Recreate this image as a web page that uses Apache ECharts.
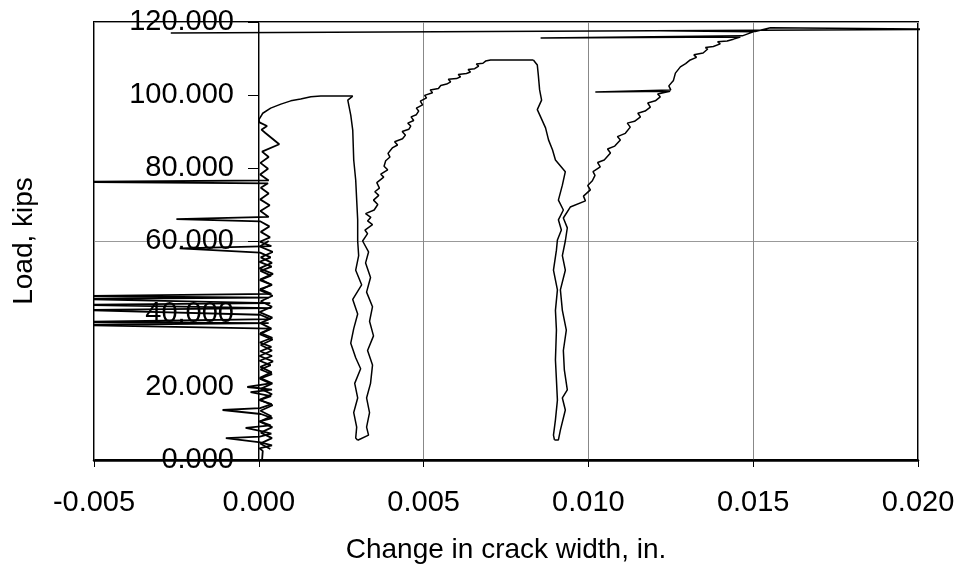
<!DOCTYPE html>
<html>
<head>
<meta charset="utf-8">
<title>Load vs crack width</title>
<script src="https://cdn.jsdelivr.net/npm/echarts@6/dist/echarts.min.js"></script>
<style>
	html, body { margin: 0; padding: 0; background: #fff; }
	#chart { width: 958px; height: 575px; }
</style>
</head>
<body>
<div id="chart"></div>
<script>
// x ticks: -0.005 .. 0.020 step 0.005, y ticks: 0 .. 120 step 20
var widthTicks = [-0.005, 0.000, 0.005, 0.010, 0.015, 0.020];
var loadTicks = [0, 20, 40, 60, 80, 100, 120];

// [change in crack width (in.), load (kips)]
// first loading, close to zero width, with the gauge spikes
var firstLoading = [
	[0.00010, 0.0], [0.00012, 2.5], [0.00002, 3.2], [0.00040, 4.0], [0.00005, 4.8],
	[-0.00100, 6.0], [0.00003, 6.4], [0.00038, 7.2], [0.00004, 8.0], [-0.00040, 8.8],
	[0.00036, 9.5], [0.00002, 10.6], [0.00041, 11.5], [0.00006, 12.6], [-0.00110, 13.7],
	[0.00004, 14.2], [0.00039, 15.3], [0.00002, 16.4], [0.00037, 17.5], [-0.00025, 18.6],
	[0.00040, 19.3], [-0.00035, 20.0], [0.00035, 21.0], [0.00003, 22.3], [0.00040, 23.5],
	[0.00005, 24.8], [0.00036, 26.0], [0.00002, 27.2], [0.00040, 28.5], [0.00004, 29.8],
	[0.00038, 31.0], [0.00003, 32.2], [0.00041, 33.5], [0.00005, 34.8], [0.00037, 36.0],
	[-0.00560, 37.0], [0.00030, 37.5], [-0.00560, 37.8], [0.00036, 38.6], [0.00004, 39.8],
	[-0.00560, 41.1], [0.00038, 41.6], [-0.00560, 42.5], [0.00035, 43.0], [-0.00560, 44.1],
	[0.00030, 44.5], [-0.00560, 44.9], [0.00038, 45.5], [0.00004, 46.8], [0.00040, 48.0],
	[0.00003, 49.3], [0.00037, 50.5], [0.00005, 51.8], [0.00039, 53.0], [0.00002, 54.3],
	[0.00036, 55.5], [0.00004, 56.8], [-0.00240, 58.0], [0.00038, 58.6], [0.00003, 59.8],
	[0.00034, 61.0], [0.00006, 62.5], [0.00032, 64.0], [0.00004, 65.4], [-0.00250, 66.0],
	[0.00030, 66.6], [0.00005, 68.2], [0.00033, 69.8], [0.00004, 71.4], [0.00030, 73.0],
	[0.00006, 74.6], [0.00028, 75.8], [-0.00560, 76.2], [0.00030, 76.6], [0.00004, 78.2],
	[0.00028, 79.8], [0.00005, 81.4], [0.00030, 83.0], [0.00010, 84.5], [0.00062, 86.5],
	[0.00020, 89.6], [0.00008, 90.5], [0.00025, 91.5], [0.00002, 92.5], [0.00000, 93.2]
];

// service level cycling, back down through the same band
var serviceCycle = [
	[0.00030, 60.0], [0.00003, 58.5], [0.00042, 57.0], [0.00006, 55.5], [0.00040, 54.0],
	[0.00002, 52.5], [0.00043, 51.0], [0.00005, 49.5], [0.00039, 48.0], [0.00003, 46.5],
	[0.00042, 45.0], [0.00006, 43.5], [0.00040, 42.0], [0.00002, 40.5], [0.00041, 39.0],
	[0.00005, 37.5], [0.00038, 36.0], [0.00003, 34.5], [0.00042, 33.0], [0.00006, 31.5],
	[0.00040, 30.0], [0.00002, 28.5], [0.00043, 27.0], [0.00005, 25.5], [0.00039, 24.0],
	[0.00003, 22.5], [0.00041, 21.0], [0.00006, 19.5], [0.00040, 18.0], [0.00002, 16.5],
	[0.00042, 15.0], [0.00005, 13.5], [0.00038, 12.0], [0.00003, 10.5], [0.00041, 9.0],
	[0.00006, 7.5], [0.00040, 6.0], [0.00004, 4.5], [0.00035, 3.0]
];

// top of first cycle and unloading
var firstPeak = [
	[0.00000, 93.2], [0.00012, 95.0], [0.00036, 96.4], [0.00067, 97.5], [0.00097, 98.4],
	[0.00127, 98.9], [0.00158, 99.5], [0.00188, 99.7], [0.00285, 99.7]
];
var firstUnload = [
	[0.00285, 99.7], [0.00270, 98.6], [0.00279, 94.5], [0.00285, 90.4], [0.00288, 82.2],
	[0.00294, 76.7], [0.00297, 71.2], [0.00300, 65.8], [0.00300, 60.0], [0.00303, 56.0],
	[0.00294, 52.0], [0.00312, 48.0], [0.00285, 44.0], [0.00300, 40.0], [0.00288, 36.0],
	[0.00279, 32.0], [0.00294, 28.0], [0.00309, 25.0], [0.00291, 21.0], [0.00300, 17.0],
	[0.00288, 13.0], [0.00297, 9.0], [0.00294, 6.0], [0.00300, 5.4]
];

// second loading cycle
var secondLoad = [
	[0.00300, 5.4], [0.00333, 6.8], [0.00327, 9.0], [0.00336, 13.0], [0.00327, 17.0],
	[0.00339, 21.0], [0.00345, 26.0], [0.00330, 30.0], [0.00348, 34.0], [0.00336, 38.0],
	[0.00345, 42.0], [0.00327, 46.0], [0.00339, 50.0], [0.00324, 54.0], [0.00333, 57.0],
	[0.00315, 60.0], [0.00330, 62.0], [0.00322, 63.0], [0.00345, 64.5], [0.00330, 65.5],
	[0.00340, 66.5], [0.00324, 67.5], [0.00350, 68.5], [0.00361, 70.0], [0.00348, 71.2],
	[0.00364, 72.5], [0.00352, 73.5], [0.00366, 74.5], [0.00358, 76.0], [0.00379, 77.5],
	[0.00370, 78.3], [0.00391, 79.5], [0.00380, 80.5], [0.00385, 82.0], [0.00398, 83.0],
	[0.00392, 84.0], [0.00405, 85.5], [0.00421, 86.3], [0.00412, 87.2], [0.00436, 88.0],
	[0.00445, 89.0], [0.00435, 90.0], [0.00455, 90.6], [0.00461, 91.5], [0.00452, 92.3],
	[0.00470, 93.0], [0.00462, 94.0], [0.00478, 94.6], [0.00485, 95.6], [0.00478, 96.4],
	[0.00497, 97.3], [0.00490, 98.3], [0.00509, 99.2], [0.00503, 99.9], [0.00527, 100.6],
	[0.00520, 101.4], [0.00545, 101.8], [0.00552, 102.6], [0.00570, 103.0], [0.00582, 103.6],
	[0.00575, 104.3], [0.00600, 104.5], [0.00612, 105.0], [0.00605, 105.6], [0.00630, 105.9],
	[0.00642, 106.3], [0.00635, 107.0], [0.00655, 107.2], [0.00667, 107.9], [0.00660, 108.5],
	[0.00680, 108.7], [0.00688, 109.3], [0.00703, 109.6], [0.00833, 109.6]
];
var secondUnload = [
	[0.00833, 109.6], [0.00845, 108.2], [0.00848, 105.5], [0.00852, 101.4], [0.00858, 98.6],
	[0.00845, 96.0], [0.00855, 94.0], [0.00870, 91.0], [0.00879, 87.7], [0.00891, 85.0],
	[0.00900, 82.2], [0.00930, 79.0], [0.00921, 75.3], [0.00909, 71.2], [0.00924, 68.5],
	[0.00909, 65.8], [0.00918, 63.0], [0.00906, 60.3], [0.00903, 57.5], [0.00894, 52.0],
	[0.00906, 46.6], [0.00900, 41.0], [0.00903, 35.6], [0.00900, 27.4], [0.00903, 22.0],
	[0.00906, 16.4], [0.00900, 11.0], [0.00894, 6.8], [0.00897, 5.5]
];

// third loading to the peak, then the gauge runs off
var thirdLoad = [
	[0.00897, 5.5], [0.00909, 5.5], [0.00915, 8.2], [0.00930, 13.7], [0.00921, 17.0],
	[0.00936, 19.2], [0.00927, 24.7], [0.00924, 30.0], [0.00933, 35.6], [0.00921, 41.0],
	[0.00915, 46.6], [0.00930, 52.0], [0.00921, 56.0], [0.00930, 60.0], [0.00936, 63.6],
	[0.00924, 66.3], [0.00945, 69.3], [0.00991, 71.0], [0.00985, 72.3], [0.01006, 74.0],
	[0.00998, 75.2], [0.01012, 76.5], [0.01020, 78.0], [0.01014, 79.0], [0.01036, 80.3],
	[0.01028, 81.5], [0.01048, 82.2], [0.01067, 84.1], [0.01058, 85.2], [0.01080, 86.0],
	[0.01097, 87.7], [0.01088, 88.6], [0.01112, 89.5], [0.01127, 91.2], [0.01118, 92.3],
	[0.01140, 92.8], [0.01158, 94.0], [0.01150, 95.0], [0.01172, 95.6], [0.01188, 96.7],
	[0.01180, 97.8], [0.01203, 98.4], [0.01218, 99.5], [0.01210, 100.3], [0.01248, 101.0],
	[0.01021, 100.8], [0.01250, 101.4], [0.01244, 102.5], [0.01258, 104.0], [0.01264, 106.0],
	[0.01279, 107.7], [0.01295, 108.6], [0.01309, 109.6], [0.01328, 110.3], [0.01320, 111.0],
	[0.01348, 111.5], [0.01362, 112.6], [0.01355, 113.0], [0.01379, 113.3], [0.01400, 114.0],
	[0.01392, 114.6], [0.01421, 114.8], [0.01440, 115.3], [0.01461, 115.9], [0.00855, 115.6],
	[0.01467, 116.2], [0.01500, 117.3], [0.01218, 117.6], [0.01506, 117.4], [0.01552, 118.4],
	[0.02150, 118.0], [-0.00267, 117.0]
];

var segments = [firstLoading, serviceCycle, firstPeak, firstUnload, secondLoad, secondUnload, thirdLoad];
var gridLoad = 60;

function fmt3(v) {
	if (Math.abs(v) < 1e-9) v = 0;
	return v.toFixed(3);
}

var series = [];
for (var i = 0; i < segments.length; i++) {
	series.push({
		type : 'line',
		data : segments[i],
		showSymbol : false,
		symbol : 'none',
		clip : true,
		lineStyle : { color : '#000', width : i < 2 ? 1.8 : 1.5 }
	});
}

var option = {
	animation : false,
	backgroundColor : '#fff',
	textStyle : { fontFamily : 'Arial, "Liberation Sans", sans-serif' },
	grid : {
		left : 94, right : 40, top : 22, bottom : 115,
		containLabel : false,
		outerBoundsMode : 'none',
		show : true, borderColor : '#000', borderWidth : 2
	},
	xAxis : [ {
		type : 'value',
		min : widthTicks[0],
		max : widthTicks[widthTicks.length - 1],
		interval : 0.005,
		name : 'Change in crack width, in.',
		nameLocation : 'middle',
		nameGap : 76,
		nameTextStyle : { fontSize : 28, color : '#000' },
		axisLine : { onZero : false, lineStyle : { color : '#000', width : 2.5 } },
		axisTick : { length : 7, lineStyle : { color : '#000' } },
		axisLabel : { fontSize : 29, color : '#000', margin : 28, formatter : fmt3 },
		splitLine : { show : true, lineStyle : { color : '#888', width : 1 } }
	} ],
	yAxis : [ {
		type : 'value',
		min : loadTicks[0],
		max : loadTicks[loadTicks.length - 1],
		interval : 20,
		// the vertical axis crosses at width 0.000
		offset : -164,
		name : 'Load, kips',
		nameLocation : 'middle',
		nameGap : 220,
		nameTextStyle : { fontSize : 28, color : '#000' },
		axisLine : { show : true, onZero : false, lineStyle : { color : '#000', width : 1 } },
		axisTick : { length : 10, lineStyle : { color : '#000' } },
		axisLabel : { fontSize : 29, color : '#000', margin : 24, formatter : fmt3 },
		splitLine : { show : false }
	}, {
		type : 'value',
		min : 0,
		max : 120,
		interval : gridLoad,
		axisLine : { show : false },
		axisTick : { show : false },
		axisLabel : { show : false },
		splitLine : { show : true, lineStyle : { color : '#999', width : 1 } }
	} ],
	series : series
};

var chart = echarts.init(document.getElementById('chart'));
chart.setOption(option);
</script>
</body>
</html>
